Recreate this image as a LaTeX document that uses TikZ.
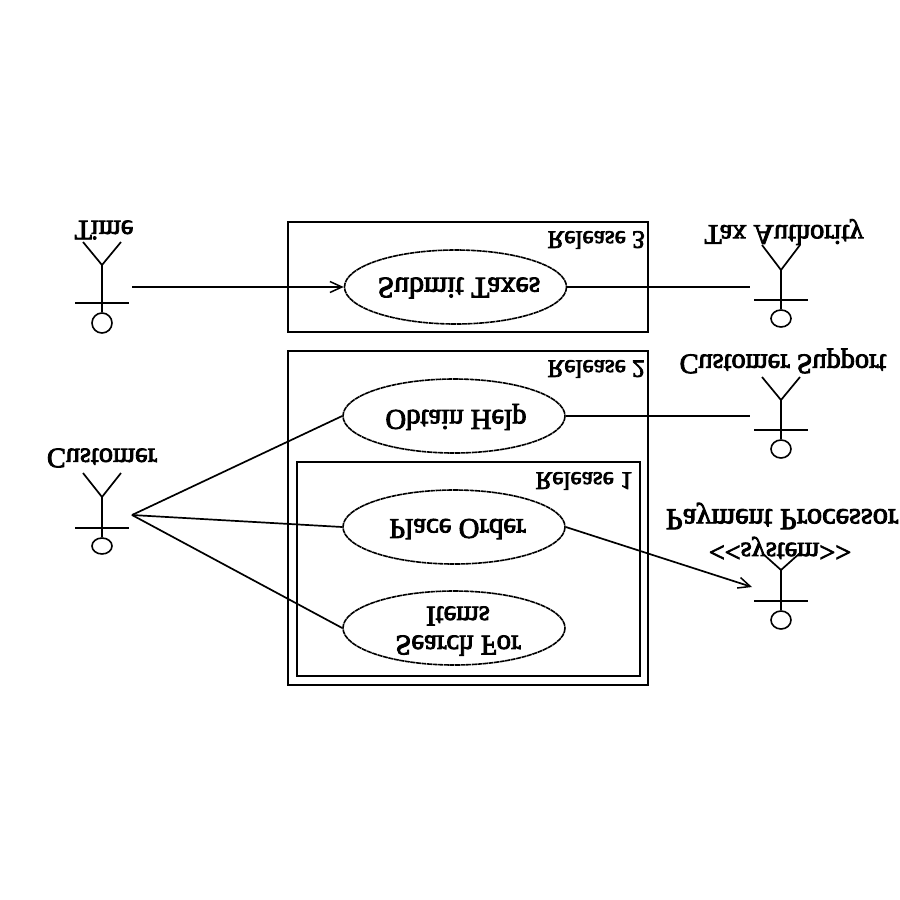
\documentclass[tikz,border=0pt]{standalone}
\usepackage{fontspec}
\setmainfont[FakeBold=3]{Liberation Serif}
\usetikzlibrary{shapes.geometric,arrows.meta}
\tikzset{
  line/.style={line width=1.7pt,black},
  ucase/.style={ellipse,draw,line width=1.6pt,dash pattern=on 5pt off 0.6pt,minimum width=222pt,minimum height=74pt,inner sep=0pt,transform shape},
  ulab/.style={inner sep=0pt,transform shape,align=center,font=\fontsize{28.7}{29}\selectfont},
  lab/.style={inner sep=0pt,transform shape,align=center,font=\fontsize{28.3}{28}\selectfont},
  rel/.style={inner sep=0pt,transform shape,anchor=east,font=\fontsize{25.2}{25}\selectfont},
  head/.style={ellipse,draw,line width=1.6pt,inner sep=0pt,minimum width=20pt,transform shape},
  flow/.style={line,-{Straight Barb[length=12pt,width=11pt,line width=1.5pt]}}
}
\newcommand{\actor}[6]{% name, x, armtop, join, bar, head bottom
  \node[head,minimum height=#6pt-#5pt-10pt] (#1) at (#2,{(#6+#5+10)/2}) {};
  \coordinate (#1n) at (#2,#4);
  \coordinate (#1l) at (#2-27,#5);
  \coordinate (#1r) at (#2+27,#5);
  \coordinate (#1al) at (#2-19,#3);
  \coordinate (#1ar) at (#2+19,#3);
  \draw[line] (#1n) -- (#1.south);
  \draw[line] (#1l) -- (#1r);
  \draw[line] (#1al) -- (#1n) -- (#1ar);
}
\begin{document}
\begin{tikzpicture}[x=1pt,y=1pt,yscale=-1]
\useasboundingbox (0,0) rectangle (900,900);
\node[draw,line,minimum width=360pt,minimum height=110pt,inner sep=0pt,transform shape] (r3) at (468,277) {};
\node[draw,line,minimum width=360pt,minimum height=334pt,inner sep=0pt,transform shape] (r2) at (468,518) {};
\node[draw,line,minimum width=343pt,minimum height=214pt,inner sep=0pt,transform shape] (r1) at (468.5,569) {};
\node[rel] (t3) at (645,240) {Release 3};
\node[rel] (t2) at (645,369) {Release 2};
\node[rel] (t1) at (633,481) {Release 1};
\node[ucase] (submit) at (455.5,287) {};
\node[ucase] (obtain) at (454,416) {};
\node[ucase] (place) at (454,527) {};
\node[ucase] (search) at (454,628) {};
\node[ulab,font=\fontsize{29.8}{30}\selectfont] (lsubmit) at (459,288) {Submit Taxes};
\node[ulab] (lobtain) at (456,417) {Obtain Help};
\node[ulab] (lplace) at (457.5,529) {Place Order};
\node[ulab] (lsearch) at (458,631) {Search For\\Items};
\actor{time}{102}{242}{265}{303}{333}
\actor{cust}{102}{473}{497}{528}{554}
\actor{tax}{781}{245}{270}{300}{327}
\actor{supp}{781}{377}{400}{430}{458}
\actor{pay}{781}{553}{570}{601}{629}
\node[lab] (ltime) at (104,230) {Time};
\node[lab] (lcust) at (102,458) {Customer};
\node[lab] (ltax) at (784,232) {Tax Authority};
\node[lab] (lsupp) at (783,361) {Customer Support};
\node[lab,font=\fontsize{30.4}{30}\selectfont] (lpay) at (782,516) {Payment Processor};
\node[lab] (lsys) at (780,548) {<{}<system>{}>};
\coordinate (e1) at (132,287);
\coordinate (e2) at (750,287);
\coordinate (e3) at (750,416);
\coordinate (e4) at (132,515);
\coordinate (e5) at (752,587);
\draw[flow] (e1) -- (submit.west);
\draw[line] (submit.east) -- (e2);
\draw[line] (obtain.east) -- (e3);
\draw[line] (e4) -- (obtain.west);
\draw[line] (e4) -- (place.west);
\draw[line] (e4) -- (search.west);
\draw[flow] (place.east) -- (e5);
\end{tikzpicture}
\end{document}
